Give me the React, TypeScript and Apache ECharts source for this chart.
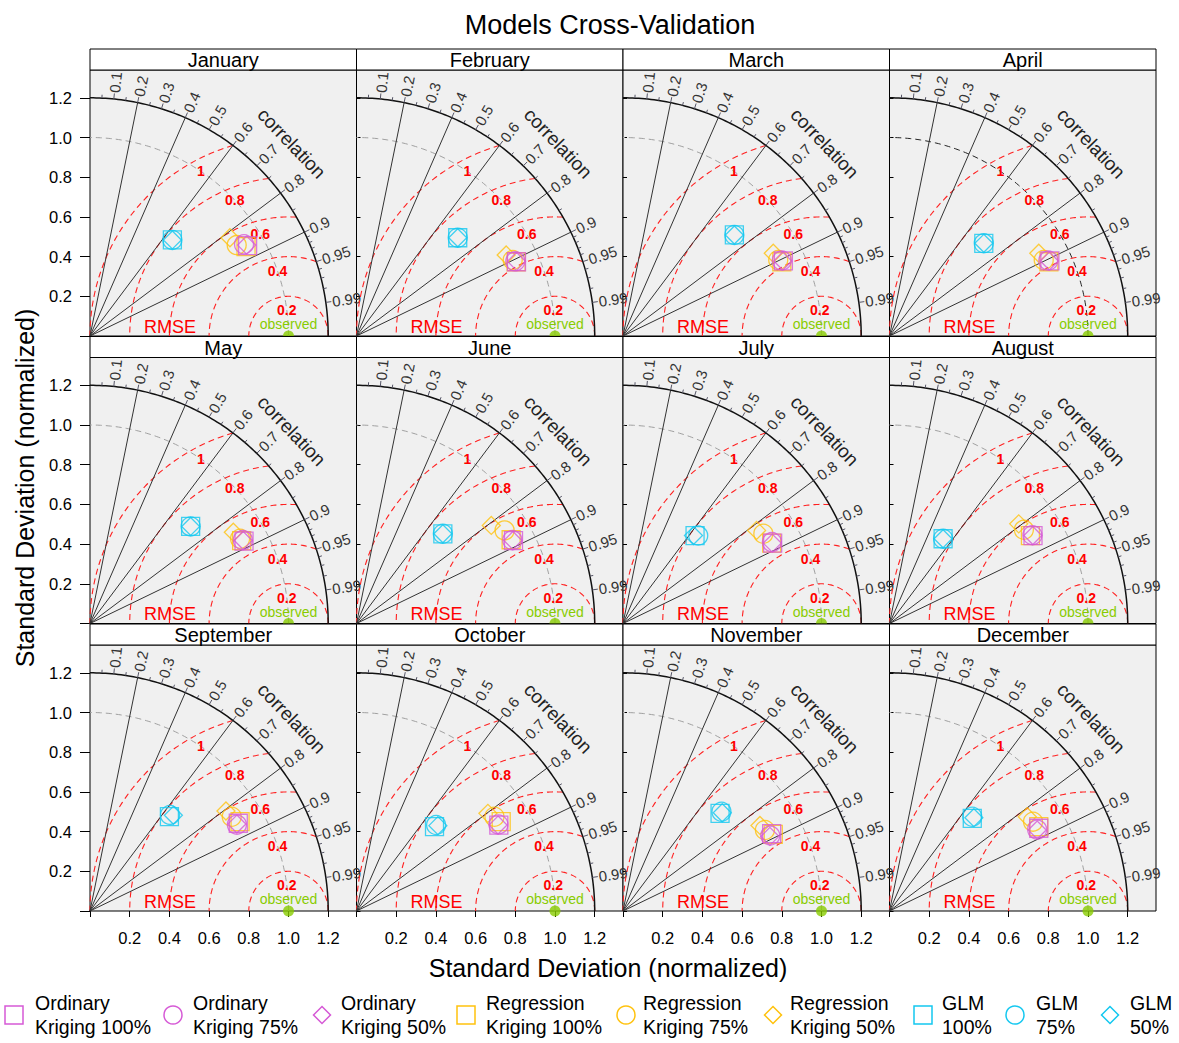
import React, { useEffect, useRef } from "react";
import * as echarts from "echarts";

const FONT = "'Liberation Sans', Arial, Helvetica, sans-serif";

const MONTHS = [
  "January", "February", "March", "April", "May", "June",
  "July", "August", "September", "October", "November", "December",
];

// normalized positions [sd*cos(theta), sd*sin(theta)], one per month
const OK_100 = [
  [0.794, 0.455], [0.806, 0.374], [0.808, 0.378], [0.808, 0.378], [0.776, 0.415], [0.791, 0.418],
  [0.754, 0.405], [0.723, 0.443], [0.747, 0.442], [0.717, 0.433], [0.749, 0.39], [0.752, 0.417],
];
const OK_75 = [
  [0.776, 0.462], [0.8, 0.376], [0.8, 0.38], [0.8, 0.38], [0.77, 0.42], [0.785, 0.42],
  [0.75, 0.41], [0.72, 0.445], [0.74, 0.435], [0.715, 0.436], [0.742, 0.38], [0.744, 0.41],
];
const OK_50 = [
  [0.789, 0.458], [0.806, 0.376], [0.805, 0.378], [0.805, 0.378], [0.772, 0.418], [0.788, 0.418],
  [0.752, 0.405], [0.722, 0.443], [0.74, 0.438], [0.713, 0.433], [0.74, 0.376], [0.744, 0.408],
];
const RK_100 = [
  [0.786, 0.45], [0.804, 0.374], [0.8, 0.374], [0.803, 0.374], [0.764, 0.418], [0.779, 0.422],
  [0.749, 0.405], [0.71, 0.443], [0.756, 0.45], [0.729, 0.45], [0.757, 0.386], [0.752, 0.425],
];
const RK_75 = [
  [0.739, 0.458], [0.787, 0.383], [0.782, 0.383], [0.777, 0.383], [0.756, 0.427], [0.746, 0.469],
  [0.707, 0.452], [0.677, 0.472], [0.714, 0.475], [0.695, 0.475], [0.715, 0.408], [0.723, 0.45],
];
const RK_50 = [
  [0.705, 0.495], [0.754, 0.408], [0.757, 0.417], [0.752, 0.417], [0.722, 0.46], [0.679, 0.494],
  [0.673, 0.469], [0.651, 0.502], [0.685, 0.504], [0.662, 0.492], [0.69, 0.431], [0.694, 0.475],
];
const GLM_100 = [
  [0.415, 0.484], [0.51, 0.495], [0.561, 0.509], [0.475, 0.467], [0.507, 0.489], [0.435, 0.452],
  [0.363, 0.443], [0.27, 0.427], [0.4, 0.475], [0.393, 0.425], [0.489, 0.492], [0.417, 0.467],
];
const GLM_75 = [
  [0.415, 0.484], [0.51, 0.495], [0.561, 0.509], [0.475, 0.467], [0.507, 0.489], [0.435, 0.452],
  [0.379, 0.443], [0.27, 0.427], [0.403, 0.484], [0.401, 0.433], [0.496, 0.5], [0.417, 0.475],
];
const GLM_50 = [
  [0.415, 0.484], [0.51, 0.495], [0.561, 0.509], [0.475, 0.467], [0.507, 0.489], [0.435, 0.452],
  [0.355, 0.443], [0.27, 0.427], [0.42, 0.482], [0.41, 0.43], [0.5, 0.495], [0.425, 0.47],
];

const OBSERVED = [1, 0];

const AXIS_TICKS = [0, 0.2, 0.4, 0.6, 0.8, 1.0, 1.2];
const AXIS_LABELS = [0.2, 0.4, 0.6, 0.8, 1.0, 1.2];
const COR_LABELS = [0.1, 0.2, 0.3, 0.4, 0.5, 0.6, 0.7, 0.8, 0.9, 0.95, 0.99];
const COR_MINOR = [0.05, 0.15, 0.25, 0.35, 0.45, 0.55, 0.65, 0.75, 0.85, 0.91, 0.92, 0.93, 0.94, 0.96, 0.97, 0.98];
const COR_LINES = [0.2, 0.4, 0.6, 0.8, 0.9];
const RMSE_LEVELS = [0.2, 0.4, 0.6, 0.8, 1.0];
const SD_MAX = 1.2;
const DARK_REF_ARC_MONTHS = ["April"];

const LEGEND_LINE1 = ["Ordinary", "Ordinary", "Ordinary", "Regression", "Regression", "Regression", "GLM", "GLM", "GLM"];
const LEGEND_LINE2 = ["Kriging 100%", "Kriging 75%", "Kriging 50%", "Kriging 100%", "Kriging 75%", "Kriging 50%", "100%", "75%", "50%"];

const MAGENTA = "#d65ad6";
const ORANGE = "#ffc20e";
const CYAN = "#14c8f0";
const GREEN = "#88cc00";

const MODELS = [
  { data: OK_100, symbol: "rect", color: MAGENTA },
  { data: OK_75, symbol: "circle", color: MAGENTA },
  { data: OK_50, symbol: "diamond", color: MAGENTA },
  { data: RK_100, symbol: "rect", color: ORANGE },
  { data: RK_75, symbol: "circle", color: ORANGE },
  { data: RK_50, symbol: "diamond", color: ORANGE },
  { data: GLM_100, symbol: "rect", color: CYAN },
  { data: GLM_75, symbol: "circle", color: CYAN },
  { data: GLM_50, symbol: "diamond", color: CYAN },
];
const DRAW_ORDER = [3, 4, 5, 0, 1, 2, 6, 7, 8];

// layout
const PX = 198.5;
const GRID_LEFT = 90;
const GRID_TOP = 70;
const COL_W = 266.5;
const ROW_H = 287.5;
const PANEL_H = 266;
const STRIP_H = 21;
const LEGEND_SYM_X = [14, 173, 322, 466, 626, 773, 923, 1015, 1110];
const LEGEND_TXT_X = [35, 193, 341, 486, 643, 790, 942, 1036, 1130];

const DEG = Math.PI / 180;

function makeFrame(refArcColor: string) {
  return function renderFrame(_params: any, api: any) {
    const P = (x: number, y: number) => api.coord([x, y]);
    const polar = (r: number, a: number) => P(r * Math.cos(a), r * Math.sin(a));
    const arc = (r: number, a0: number, a1: number) => {
      const pts: number[][] = [];
      const n = 120;
      for (let i = 0; i <= n; i++) pts.push(polar(r, a0 + ((a1 - a0) * i) / n));
      return pts;
    };
    const ch: any[] = [];
    // sd = 1 reference arc
    ch.push({
      type: "polyline",
      shape: { points: arc(1, 0, Math.PI / 2) },
      style: { stroke: refArcColor, lineWidth: 1, lineDash: [6, 4], fill: null },
    });
    // RMSE arcs
    for (const r of RMSE_LEVELS) {
      const c = (SD_MAX * SD_MAX - 1 - r * r) / (2 * r);
      const t0 = c >= 1 ? 0 : Math.acos(c);
      const pts: number[][] = [];
      const n = 120;
      for (let i = 0; i <= n; i++) {
        const t = t0 + ((Math.PI - t0) * i) / n;
        pts.push(P(1 + r * Math.cos(t), r * Math.sin(t)));
      }
      ch.push({
        type: "polyline",
        shape: { points: pts },
        style: { stroke: "#ff2020", lineWidth: 1.1, lineDash: [6, 4], fill: null },
      });
    }
    // radial correlation lines
    for (const c of COR_LINES) {
      const a = Math.acos(c);
      const o = P(0, 0);
      const e = polar(SD_MAX, a);
      ch.push({
        type: "line",
        shape: { x1: o[0], y1: o[1], x2: e[0], y2: e[1] },
        style: { stroke: "#333", lineWidth: 1 },
      });
    }
    // outer arc
    ch.push({
      type: "polyline",
      shape: { points: arc(SD_MAX, 0, Math.PI / 2) },
      style: { stroke: "#111", lineWidth: 1.5, fill: null },
    });
    // ticks
    for (const c of COR_MINOR) {
      const a = Math.acos(c);
      const s = polar(SD_MAX, a);
      const e = polar(SD_MAX + 0.017, a);
      ch.push({ type: "line", shape: { x1: s[0], y1: s[1], x2: e[0], y2: e[1] }, style: { stroke: "#556", lineWidth: 1 } });
    }
    for (const c of COR_LABELS) {
      const a = Math.acos(c);
      const s = polar(SD_MAX, a);
      const e = polar(SD_MAX + 0.028, a);
      ch.push({ type: "line", shape: { x1: s[0], y1: s[1], x2: e[0], y2: e[1] }, style: { stroke: "#556", lineWidth: 1 } });
      const p = polar(SD_MAX + 0.032, a);
      ch.push({
        type: "text",
        x: p[0],
        y: p[1],
        rotation: a,
        style: { text: String(c), fill: "#333", font: `15px ${FONT}`, align: "left", verticalAlign: "middle" },
      });
    }
    // RMSE labels
    for (const r of RMSE_LEVELS) {
      const th = Math.acos(1 - (r * r) / 2) - 4 * DEG;
      const p = polar(1.0, th);
      ch.push({
        type: "text",
        x: p[0],
        y: p[1],
        style: {
          text: r === 1 ? "1" : r.toFixed(1),
          fill: "#ff0000",
          font: `bold 14px ${FONT}`,
          align: "center",
          verticalAlign: "middle",
        },
      });
    }
    const cl = polar(1.405, 43.7 * DEG);
    ch.push({
      type: "text",
      x: cl[0],
      y: cl[1],
      rotation: (43.7 - 90) * DEG,
      style: { text: "correlation", fill: "#222", font: `19px ${FONT}`, align: "center", verticalAlign: "middle" },
    });
    const rm = P(0.403, 0.047);
    ch.push({
      type: "text",
      x: rm[0],
      y: rm[1],
      style: { text: "RMSE", fill: "#ff0000", font: `18px ${FONT}`, align: "center", verticalAlign: "middle" },
    });
    const ob = P(1.0, 0.059);
    ch.push({
      type: "text",
      x: ob[0],
      y: ob[1],
      style: { text: "observed", fill: GREEN, font: `14px ${FONT}`, align: "center", verticalAlign: "middle" },
    });
    return { type: "group", children: ch };
  };
}

function buildOption() {
  const grids: any[] = [];
  const xAxes: any[] = [];
  const yAxes: any[] = [];
  const series: any[] = [];
  const graphics: any[] = [];

  MONTHS.forEach((month, i) => {
    const row = Math.floor(i / 4);
    const col = i % 4;
    const left = GRID_LEFT + col * COL_W;
    const top = GRID_TOP + row * ROW_H;
    grids.push({
      left,
      top,
      width: COL_W,
      height: PANEL_H,
      show: true,
      backgroundColor: "#f0f0f0",
      borderColor: "#000",
      borderWidth: 1,
      containLabel: false,
      outerBoundsMode: "none",
    });
    xAxes.push({
      gridIndex: i,
      type: "value",
      min: 0,
      max: COL_W / PX,
      interval: 0.2,
      axisLine: { show: false },
      splitLine: { show: false },
      axisTick: { show: row === 2, length: 6, customValues: AXIS_TICKS, lineStyle: { color: "#000" } },
      axisLabel: {
        show: row === 2,
        customValues: AXIS_LABELS,
        formatter: (v: number) => v.toFixed(1),
        fontSize: 16.5,
        color: "#000",
        margin: 18,
        fontFamily: FONT,
      },
    });
    yAxes.push({
      gridIndex: i,
      type: "value",
      min: 0,
      max: PANEL_H / PX,
      interval: 0.2,
      axisLine: { show: false },
      splitLine: { show: false },
      axisTick: {
        show: true,
        inside: col !== 0,
        length: col === 0 ? 10 : 4,
        customValues: AXIS_TICKS,
        lineStyle: { color: "#000" },
      },
      axisLabel: {
        show: col === 0,
        customValues: AXIS_LABELS,
        formatter: (v: number) => v.toFixed(1),
        fontSize: 16.5,
        color: "#000",
        margin: 18,
        fontFamily: FONT,
      },
    });
    series.push({
      type: "custom",
      xAxisIndex: i,
      yAxisIndex: i,
      data: [[0, 0]],
      renderItem: makeFrame(DARK_REF_ARC_MONTHS.includes(month) ? "#222" : "#a0a0a0"),
      z: 2,
      clip: false,
      silent: true,
    });
    DRAW_ORDER.forEach((k) => {
      const md = MODELS[k];
      series.push({
        type: "scatter",
        name: LEGEND_LINE1[k] + " " + LEGEND_LINE2[k],
        xAxisIndex: i,
        yAxisIndex: i,
        data: [md.data[i]],
        symbol: md.symbol,
        symbolSize: md.symbol === "circle" ? 19 : 18,
        itemStyle: { color: "transparent", borderColor: md.color, borderWidth: 1.3 },
        z: 3,
        clip: false,
        silent: true,
      });
    });
    series.push({
      type: "scatter",
      xAxisIndex: i,
      yAxisIndex: i,
      data: [OBSERVED],
      symbol: "circle",
      symbolSize: 11,
      itemStyle: { color: GREEN },
      z: 4,
      clip: false,
      silent: true,
    });
    graphics.push({
      type: "rect",
      shape: { x: left, y: top - STRIP_H, width: COL_W, height: STRIP_H },
      style: { fill: "#fff", stroke: "#000", lineWidth: 1 },
      z: 10,
    });
    graphics.push({
      type: "text",
      x: left + COL_W / 2,
      y: top - STRIP_H / 2 + 0.5,
      style: { text: month, fill: "#000", font: `20px ${FONT}`, align: "center", verticalAlign: "middle" },
      z: 11,
    });
  });

  // titles
  graphics.push({
    type: "text",
    x: 610,
    y: 25,
    style: { text: "Models Cross-Validation", fill: "#000", font: `27px ${FONT}`, align: "center", verticalAlign: "middle" },
  });
  graphics.push({
    type: "text",
    x: 608,
    y: 968,
    style: { text: "Standard Deviation (normalized)", fill: "#000", font: `25px ${FONT}`, align: "center", verticalAlign: "middle" },
  });
  graphics.push({
    type: "text",
    x: 25,
    y: 488,
    rotation: Math.PI / 2,
    style: { text: "Standard Deviation (normalized)", fill: "#000", font: `25px ${FONT}`, align: "center", verticalAlign: "middle" },
  });

  // legend
  const LY = 1015;
  MODELS.forEach((md, k) => {
    const cx = LEGEND_SYM_X[k];
    const st = { fill: "transparent", stroke: md.color, lineWidth: 1.5 };
    if (md.symbol === "rect") {
      graphics.push({ type: "rect", shape: { x: cx - 9, y: LY - 9, width: 18, height: 18 }, style: st });
    } else if (md.symbol === "circle") {
      graphics.push({ type: "circle", shape: { cx, cy: LY, r: 9 }, style: st });
    } else {
      graphics.push({
        type: "polygon",
        shape: { points: [[cx, LY - 8.5], [cx + 8.5, LY], [cx, LY + 8.5], [cx - 8.5, LY]] },
        style: st,
      });
    }
    graphics.push({
      type: "text",
      x: LEGEND_TXT_X[k],
      y: 1003,
      style: { text: LEGEND_LINE1[k], fill: "#000", font: `19.5px ${FONT}`, align: "left", verticalAlign: "middle" },
    });
    graphics.push({
      type: "text",
      x: LEGEND_TXT_X[k],
      y: 1027,
      style: { text: LEGEND_LINE2[k], fill: "#000", font: `19.5px ${FONT}`, align: "left", verticalAlign: "middle" },
    });
  });

  return {
    animation: false,
    backgroundColor: "#fff",
    textStyle: { fontFamily: FONT },
    grid: grids,
    xAxis: xAxes,
    yAxis: yAxes,
    series,
    graphic: graphics,
  };
}

export default function App() {
  const ref = useRef<HTMLDivElement>(null);
  useEffect(() => {
    const chart = echarts.init(ref.current!, null, { renderer: "svg" });
    chart.setOption(buildOption());
    return () => chart.dispose();
  }, []);
  return (
    <div
      ref={ref}
      style={{ position: "absolute", left: 0, top: 0, width: 1179, height: 1043, background: "#fff" }}
    />
  );
}
